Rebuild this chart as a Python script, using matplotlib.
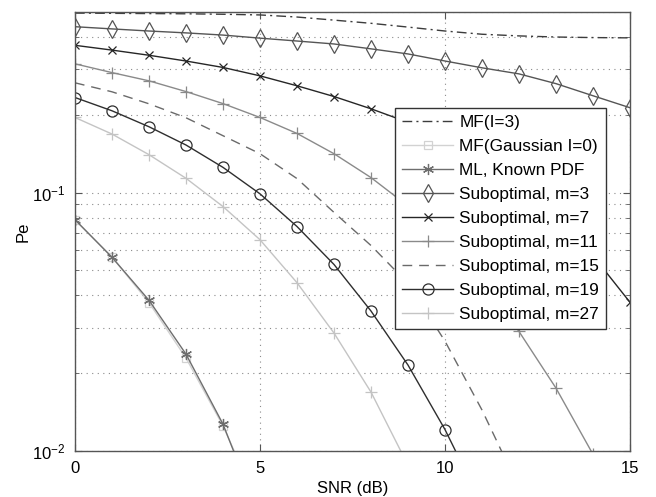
import numpy as np
import matplotlib
matplotlib.use("Agg")
import matplotlib.pyplot as plt
from matplotlib.ticker import LogLocator, NullFormatter, FixedLocator

# ---------------- data ----------------
snr = list(range(0, 16))

mf_i3 = [0.495, 0.494, 0.493, 0.492, 0.490, 0.487, 0.478, 0.465, 0.452, 0.437,
         0.422, 0.410, 0.404, 0.400, 0.398, 0.397]
mf_gauss = [0.0786, 0.0563, 0.0375, 0.0229, 0.0125, 0.0060]
ml_known = [0.0785, 0.0562, 0.0383, 0.0237, 0.0127, 0.0055]
sub_m3 = [0.4385, 0.430, 0.422, 0.415, 0.407, 0.396, 0.386, 0.376, 0.360, 0.344,
          0.323, 0.304, 0.288, 0.264, 0.237, 0.213]
sub_m7 = [0.3715, 0.356, 0.340, 0.323, 0.305, 0.283, 0.259, 0.2354, 0.211, 0.187,
          0.162, 0.135, 0.108, 0.082, 0.057, 0.0376]
sub_m11 = [0.315, 0.2913, 0.2707, 0.246, 0.221, 0.1953, 0.1694, 0.1414, 0.1143,
           0.0887, 0.0658, 0.0450, 0.0290, 0.0175, 0.0097]
sub_m15 = [0.266, 0.2455, 0.2206, 0.1948, 0.166, 0.1414, 0.1133, 0.0838, 0.0624,
           0.0445, 0.0266, 0.0144, 0.0072]
sub_m19 = [0.2333, 0.2073, 0.1798, 0.1528, 0.1252, 0.0989, 0.0739, 0.0527, 0.0348,
           0.0215, 0.0121, 0.0062]
sub_m27 = [0.1953, 0.1685, 0.1402, 0.1136, 0.0883, 0.0657, 0.0448, 0.0286, 0.0169,
           0.0088]

labels = ["MF(I=3)", "MF(Gaussian I=0)", "ML, Known PDF", "Suboptimal, m=3",
          "Suboptimal, m=7", "Suboptimal, m=11", "Suboptimal, m=15",
          "Suboptimal, m=19", "Suboptimal, m=27"]
xticks = [0, 5, 10, 15]

# ---------------- figure ----------------
plt.rcParams['font.family'] = ['Liberation Sans', 'DejaVu Sans']
fig = plt.figure(figsize=(6.56, 4.97), dpi=100)
ax = fig.add_axes([0.1143, 0.0926, 0.8461, 0.8833])

series = [mf_i3, mf_gauss, ml_known, sub_m3, sub_m7, sub_m11, sub_m15, sub_m19, sub_m27]
styles = [
    dict(color='#3c3c3c', ls=(0, (7, 3, 1.5, 3)), marker=None),
    dict(color='#d2d2d2', ls='-', marker='s', ms=6),
    dict(color='#6e6e6e', ls='-', marker=(6, 2, 0), ms=8),
    dict(color='#555555', ls='-', marker='d', ms=9),
    dict(color='#262626', ls='-', marker='x', ms=6),
    dict(color='#8a8a8a', ls='-', marker='+', ms=9),
    dict(color='#6a6a6a', ls=(0, (7, 5)), marker=None),
    dict(color='#2e2e2e', ls='-', marker='o', ms=8),
    dict(color='#c4c4c4', ls='-', marker='+', ms=9),
]
for vals, st, lab in zip(series, styles, labels):
    ax.plot(snr[:len(vals)], vals, color=st['color'], linestyle=st['ls'],
            marker=st['marker'], markersize=st.get('ms', 6),
            markerfacecolor='none', markeredgecolor=st['color'],
            markeredgewidth=0.9, linewidth=1.0, label=lab)

ax.set_yscale('log')
ax.set_xlim(0, 15)
ax.set_ylim(0.01, 0.5)
ax.xaxis.set_major_locator(FixedLocator(xticks))
ax.set_xticklabels([str(t) for t in xticks])
ax.yaxis.set_major_locator(LogLocator(base=10, numticks=10))
ax.yaxis.set_minor_locator(LogLocator(base=10, subs=np.arange(2, 10), numticks=20))
ax.yaxis.set_minor_formatter(NullFormatter())

ax.grid(True, which='major', axis='both', color='#8a8a8a', linestyle=(0, (1, 4)), linewidth=0.8)
ax.grid(True, which='minor', axis='y', color='#8a8a8a', linestyle=(0, (1, 4)), linewidth=0.8)

ax.tick_params(which='both', direction='in', top=True, right=True, color='#555555')
ax.tick_params(which='major', length=5, labelsize=12, pad=7)
ax.tick_params(which='minor', length=3)
for sp in ax.spines.values():
    sp.set_color('#555555')
    sp.set_linewidth(1.0)

ax.set_xlabel('SNR (dB)', fontsize=12, labelpad=4)
ax.set_ylabel('Pe', fontsize=12, labelpad=1)

leg = ax.legend(loc='upper right', bbox_to_anchor=(0.957, 0.781), borderaxespad=0,
                fontsize=12.4, handlelength=3.0, handletextpad=0.35, labelspacing=0.52,
                borderpad=0.4, fancybox=False, framealpha=1, edgecolor='#333333')
leg.get_frame().set_linewidth(1.0)

fig.savefig('out.png', dpi=100)
